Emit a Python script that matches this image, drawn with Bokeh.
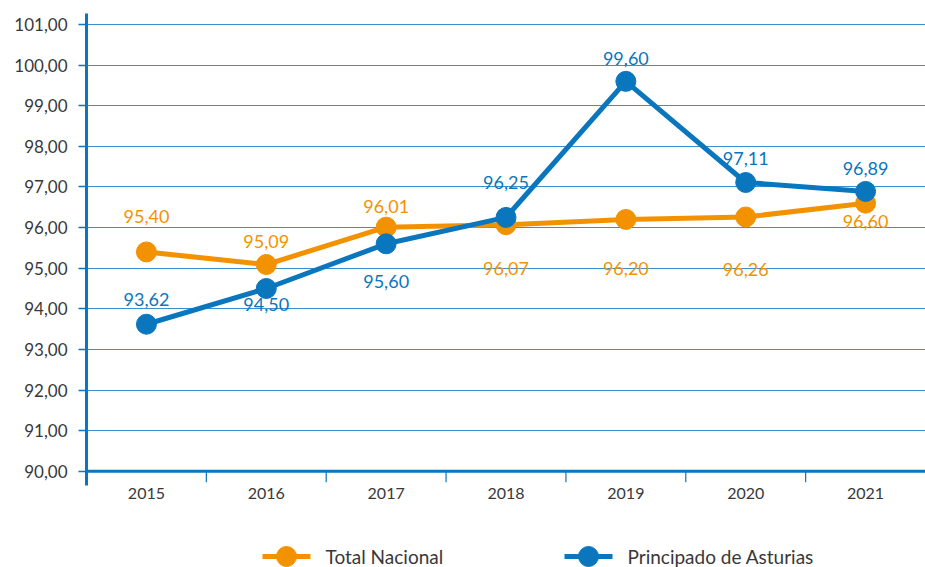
from bokeh.plotting import figure
from bokeh.models import ColumnDataSource, FixedTicker, Range1d, LabelSet, Span
from bokeh.layouts import column
from bokeh.embed import file_html
from bokeh.resources import INLINE
from bokeh.core.properties import value

years = ["2015", "2016", "2017", "2018", "2019", "2020", "2021"]
total_nacional = [95.40, 95.09, 96.01, 96.07, 96.20, 96.26, 96.60]
asturias = [93.62, 94.50, 95.60, 96.25, 99.60, 97.11, 96.89]
y_ticks = [90, 91, 92, 93, 94, 95, 96, 97, 98, 99, 100, 101]
y_tick_labels = ["90,00", "91,00", "92,00", "93,00", "94,00", "95,00",
                 "96,00", "97,00", "98,00", "99,00", "100,00", "101,00"]
series_names = ["Total Nacional", "Principado de Asturias"]

# label placement (pixels, negative = above)
tn_dy = [-35, -23, -21, 44, 49, 52, 18]
as_dy = [-25, 16, 38, -35, -23, -24, -23]

ORANGE = "#f39200"
BLUE = "#0a76bd"
GRID = "#3a8fd0"
FONT = "Lato"

def fmt(v):
    return ("%.2f" % v).replace(".", ",")

xs = [i + 0.5 for i in range(len(years))]

p = figure(width=925, height=520, output_backend="svg", toolbar_location=None,
           x_range=Range1d(0, len(years)), y_range=Range1d(89.65, 101.27),
           min_border_left=86, min_border_right=0, min_border_top=13,
           min_border_bottom=35)
p.outline_line_color = None
p.xgrid.grid_line_color = None
p.ygrid.ticker = FixedTicker(ticks=y_ticks[1:])
p.ygrid.grid_line_color = GRID
p.ygrid.grid_line_width = 1.2

# y axis
p.yaxis.ticker = FixedTicker(ticks=y_ticks)
p.yaxis.major_label_overrides = {t: l for t, l in zip(y_ticks, y_tick_labels)}
p.yaxis.axis_line_color = BLUE
p.yaxis.axis_line_width = 3
p.yaxis.major_tick_line_color = BLUE
p.yaxis.major_tick_line_width = 1.5
p.yaxis.major_tick_out = 8
p.yaxis.major_tick_in = 0
p.yaxis.minor_tick_line_color = None
p.yaxis.major_label_standoff = 11
p.yaxis.major_label_text_font = FONT
p.yaxis.major_label_text_font_size = "17px"
p.yaxis.major_label_text_color = "#383838"

# x axis (labels only, at category centres)
p.xaxis.ticker = FixedTicker(ticks=xs)
p.xaxis.major_label_overrides = {x: y for x, y in zip(xs, years)}
p.xaxis.axis_line_color = None
p.xaxis.major_tick_line_color = None
p.xaxis.minor_tick_line_color = None
p.xaxis.major_label_standoff = -4
p.xaxis.major_label_text_font = FONT
p.xaxis.major_label_text_font_size = "16px"
p.xaxis.major_label_text_color = "#383838"

# baseline at 90 and category boundary ticks
p.add_layout(Span(location=90, dimension="width", line_color=BLUE, line_width=3))
bx = list(range(1, len(years)))
p.segment(x0=bx, y0=[90] * len(bx), x1=bx, y1=[89.73] * len(bx),
          line_color=BLUE, line_width=1.2)

src_tn = ColumnDataSource(dict(x=xs, y=total_nacional,
                               t=[fmt(v) for v in total_nacional], dy=[-d for d in tn_dy]))
src_as = ColumnDataSource(dict(x=xs, y=asturias,
                               t=[fmt(v) for v in asturias], dy=[-d for d in as_dy]))

p.line("x", "y", source=src_tn, line_color=ORANGE, line_width=5)
p.scatter("x", "y", source=src_tn, size=20, fill_color=ORANGE, line_color=ORANGE)
p.line("x", "y", source=src_as, line_color=BLUE, line_width=5)
p.scatter("x", "y", source=src_as, size=20, fill_color=BLUE, line_color=BLUE)

for src, col in ((src_tn, ORANGE), (src_as, BLUE)):
    p.add_layout(LabelSet(x="x", y="y", text="t", source=src, y_offset="dy",
                          text_align="center", text_baseline="middle",
                          text_font=value(FONT), text_font_size="18px",
                          text_color=col))

# legend figure (x in page pixels; frame aligned with main frame 86..925)
lg = figure(width=925, height=47, output_backend="svg", toolbar_location=None,
            x_range=Range1d(86, 925), y_range=Range1d(0, 47),
            min_border_left=86, min_border_right=0, min_border_top=0,
            min_border_bottom=0)
lg.outline_line_color = None
lg.xaxis.visible = False
lg.yaxis.visible = False
lg.grid.visible = False
leg_x = [262, 564]
leg_col = [ORANGE, BLUE]
ly = 11
for lx, c in zip(leg_x, leg_col):
    lg.segment(x0=[lx], y0=[ly], x1=[lx + 48], y1=[ly], line_color=c, line_width=5)
    lg.scatter(x=[lx + 24], y=[ly], size=20, fill_color=c, line_color=c)
lg.text(x=[lx + 63 for lx in leg_x], y=[ly] * 2, text=series_names,
        text_font=value(FONT), text_font_size="19px", text_color="#383838",
        text_baseline="middle", text_align="left")

layout = column(p, lg, spacing=0)
open("out.html", "w").write(file_html(layout, INLINE))
